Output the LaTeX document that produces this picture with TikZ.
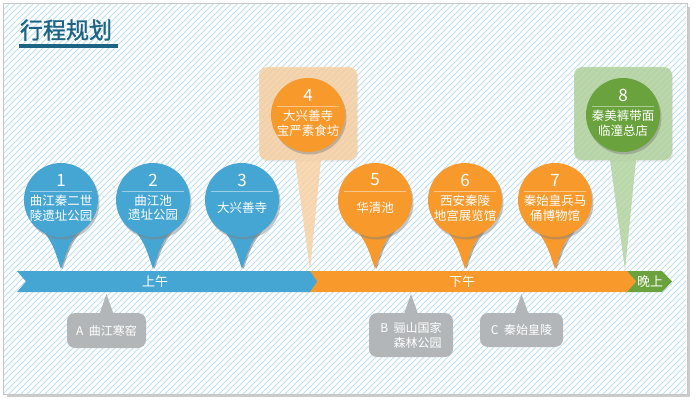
\documentclass[tikz,border=0pt]{standalone}
\usepackage{fontspec}
\setmainfont{Noto Sans CJK SC}
\newfontfamily\titlefont[FakeBold=1.2]{Noto Sans CJK SC}
\usetikzlibrary{calc}
\usetikzlibrary{shadows}
\usetikzlibrary{positioning}
\definecolor{pinblue}{HTML}{46A6D3}
\definecolor{pinorange}{HTML}{F7992B}
\definecolor{pingreen}{HTML}{6AA23D}
\definecolor{boxorange}{HTML}{F8CF9F}
\definecolor{boxgreen}{HTML}{AFD29A}
\definecolor{titleblue}{HTML}{1C6384}
\definecolor{calloutgray}{HTML}{B3B6B9}
\definecolor{hatch}{HTML}{BFE0F2}
\tikzset{pinball/.style={circle, inner sep=0pt, minimum size=74pt,
    drop shadow={shadow xshift=1.5pt, shadow yshift=-2.5pt, opacity=.45}}}
\tikzset{pinnum/.style={text=white, inner sep=0pt, font=\fontsize{17}{17}\selectfont}}
\tikzset{pintext/.style={text=white, inner sep=0pt, align=center,
    font=\fontsize{12.5}{14.5}\selectfont}}
\tikzset{pinbox/.style={rounded corners=8pt, inner sep=0pt, minimum width=98pt,
    minimum height=93pt, fill opacity=.8}}
\tikzset{callout/.style={rounded corners=8pt, fill=calloutgray, text=white, inner sep=0pt,
    align=right, font=\fontsize{12}{15}\selectfont}}
\tikzset{barlabel/.style={text=white, inner sep=0pt, font=\fontsize{13}{13}\selectfont}}

\begin{document}
\begin{tikzpicture}[x=1pt,y=-1pt]
  \useasboundingbox (0,0) rectangle (696,401);
  % frame with hatching
  \fill[gray!40] (7,7) rectangle (690,397);
  \fill[white] (3,3) rectangle (687,394);
  \begin{scope}
    \clip (4,4) rectangle (686,393);
    \foreach \i in {-400,-394,...,690} {
      \draw[hatch, line width=1pt] (\i,401) -- ++(401,-401);
    }
  \end{scope}
  \draw[gray!45] (3,3) rectangle (687,394);
  % title
  \node[text=titleblue, inner sep=0pt, font=\titlefont\fontsize{23}{23}\selectfont] (title) at (66,30) {行程规划};
  \fill[titleblue] (19,44) rectangle (118,48);
  % time bar
  \fill[pingreen] (626,271) -- (662,271) -- (672,281.5) -- (662,292) -- (626,292) -- (636,281.5) -- cycle;
  \fill[pinorange] (305,271) -- (627,271) -- (636,281.5) -- (627,292) -- (305,292) -- cycle;
  \fill[pinblue] (17,271) -- (310,271) -- (317,281.5) -- (310,292) -- (17,292) -- (26,281.5) -- cycle;
  \foreach \x/\name/\lab in {
    155/上午/am,
    462/下午/pm,
    650/晚上/eve%
  } {
    \node[barlabel] (\lab) at (\x,282) {\name};
  }
  % boxes behind 4 and 8
  \foreach \x/\tip/\col/\lab in {
    308/310/boxorange/b4,
    623/625/boxgreen/b8%
  } {
    \coordinate (t\lab) at (\tip,270);
    \node[pinbox, fill=\col, drop shadow={shadow xshift=1pt, shadow yshift=-1.5pt, opacity=.15}] (\lab) at (\x,113.5) {};
    \fill[\col, fill opacity=.8] ($(\lab.south)+(-13,0)$) -- (t\lab) -- ($(\lab.south)+(13,0)$) -- cycle;
  }
  % pointers of the pins on the bar
  \foreach \x/\col/\lab in {
    61/pinblue/p1,
    153/pinblue/p2,
    242/pinblue/p3,
    375/pinorange/p5,
    465/pinorange/p6,
    555/pinorange/p7%
  } {
    \coordinate (t\lab) at (\x,269);
    \fill[black, opacity=.3] ($(\x,200)+(-15,30)$) .. controls ($(\x,200)+(-5,45)$) .. ($(t\lab)+(1.5,0)$)
      .. controls ($(\x,200)+(10,45)$) .. ($(\x,200)+(21,30)$) -- cycle;
    \fill[\col] ($(\x,200)+(-18,30)$) .. controls ($(\x,200)+(-8,45)$) .. (t\lab)
      .. controls ($(\x,200)+(8,45)$) .. ($(\x,200)+(18,30)$) -- cycle;
  }
  % pins
  \foreach \x/\y/\num/\txt/\col/\lab in {
    61/200/1/{曲江秦二世\\陵遗址公园}/pinblue/p1,
    153/200/2/{曲江池\\遗址公园}/pinblue/p2,
    242/200/3/{大兴善寺}/pinblue/p3,
    308/115/4/{大兴善寺\\宝严素食坊}/pinorange/p4,
    375/200/5/{华清池}/pinorange/p5,
    465/200/6/{西安秦陵\\地宫展览馆}/pinorange/p6,
    555/200/7/{秦始皇兵马\\俑博物馆}/pinorange/p7,
    623/115/8/{秦美裤带面\\临潼总店}/pingreen/p8%
  } {
    \node[pinball, fill=\col] (\lab) at (\x,\y) {};
    \node[pinnum] (n\lab) at ($(\lab)+(0,-20)$) {\num};
    \draw[white, opacity=.45] ($(\lab)+(-31,-9)$) -- ($(\lab)+(31,-9)$);
    \node[pintext] (s\lab) at ($(\lab)+(0,8)$) {\txt};
  }
  % side trips
  \foreach \x/\y/\w/\h/\txt/\lab in {
    106.5/330.5/79/35/{A\ \ 曲江寒窑}/ca,
    411/335/84/44/{B\ \ 骊山国家\\森林公园}/cb,
    521.5/330/83/34/{C\ \ 秦始皇陵}/cc%
  } {
    \node[callout, minimum width=\w pt, minimum height=\h pt] (\lab) at (\x,\y) {\txt};
    \fill[calloutgray] ($(\lab.north)+(-7,1)$) -- (\x,294) -- ($(\lab.north)+(7,1)$) -- cycle;
  }
\end{tikzpicture}
\end{document}
